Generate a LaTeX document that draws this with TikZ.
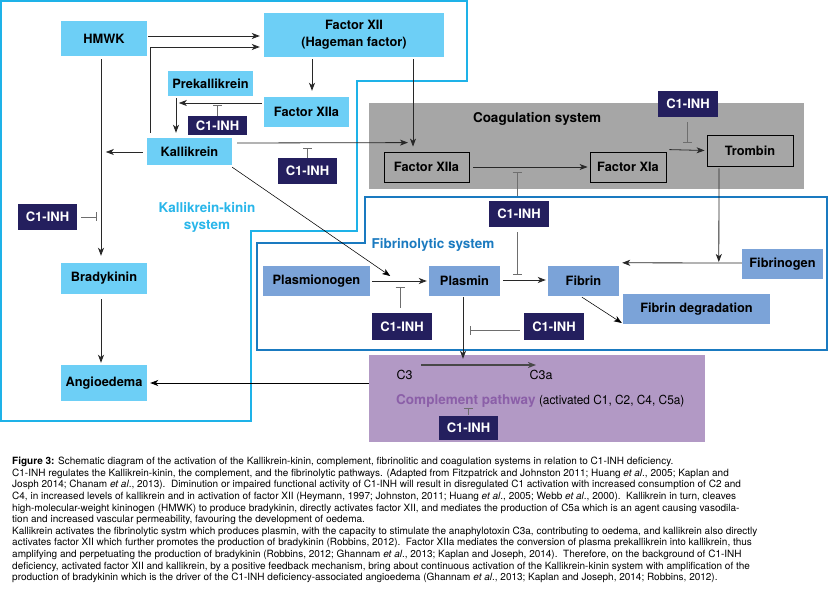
\documentclass[tikz,border=0pt]{standalone}
\usepackage{fontspec}
\setmainfont{TeX Gyre Heros}
\usetikzlibrary{arrows.meta,calc}
\definecolor{kkfill}{RGB}{109,207,246}
\definecolor{kkline}{RGB}{30,178,232}
\definecolor{kktext}{RGB}{41,182,234}
\definecolor{inhfill}{RGB}{36,31,94}
\definecolor{fibfill}{RGB}{123,163,216}
\definecolor{fibline}{RGB}{26,122,192}
\definecolor{coagfill}{RGB}{166,166,166}
\definecolor{compfill}{RGB}{178,153,197}
\definecolor{comptext}{RGB}{139,95,168}
\definecolor{arrcol}{RGB}{40,40,40}
\definecolor{inhcol}{RGB}{110,110,110}
\newcommand\nodefont{\fontsize{12.8}{15}\selectfont\bfseries}
\newcommand\labfont{\fontsize{13.5}{17}\selectfont\bfseries}
\begin{document}
\begin{tikzpicture}[x=1pt,y=-1pt,
  sz/.style 2 args={minimum width=#1pt, minimum height=#2pt},
  base/.style={inner sep=0pt, align=center, font=\nodefont},
  kk/.style={base, fill=kkfill, text=black},
  fib/.style={base, fill=fibfill, text=black},
  coagbox/.style={base, fill=coagfill, draw=black, line width=0.8pt, text=black},
  inh/.style={base, fill=inhfill, text=white, font=\fontsize{13}{15}\selectfont\bfseries},
  arr/.style={draw=arrcol, line width=0.8pt, -{Stealth[length=8pt,width=6pt,inset=2.2pt]}},
  thinarr/.style={draw=black, line width=0.55pt, -{Stealth[length=8pt,width=6pt,inset=2.2pt]}},
  tee/.style={draw=inhcol, line width=0.8pt, -{Bar[width=9pt]}},
  lab/.style={inner sep=0pt, align=center, font=\labfont},
  comptextstyle/.style={inner sep=0pt, font=\fontsize{12.5}{15}\selectfont}
]
\useasboundingbox (0,0) rectangle (829,609);
\fill[white] (0,0) rectangle (829,609);

% background regions
\node[base, fill=coagfill, sz={435}{86}] (coag) at (586.5,146) {};
\node[base, fill=compfill, sz={336}{87}] (comp) at (537,398.5) {};
\draw[kkline, line width=1.5pt] (1,1) -- (467,1) -- (467,81) -- (357,81) -- (357,231) -- (251,231) -- (251,421) -- (1,421) -- cycle;
\draw[fibline, line width=1.5pt] (365,197) -- (827,197) -- (827,350) -- (257,350) -- (257,243) -- (365,243) -- cycle;

% labels
\node[lab, text=kktext] (kklab) at (207,217.5) {Kallikrein-kinin\\system};
\node[lab, text=black] (coaglab) at (537,119) {Coagulation system};
\node[lab, text=fibline] (fiblab) at (433,245) {Fibrinolytic system};

% kallikrein-kinin nodes
\node[kk, sz={86}{35}] (HMWK) at (104,38.5) {HMWK};
\node[kk, sz={180}{44}, font=\fontsize{12.8}{17}\selectfont\bfseries] (FXII) at (354,35) {Factor XII\\(Hageman factor)};
\node[kk, sz={85}{25}] (PreK) at (210.5,83.5) {Prekallikrein};
\node[kk, sz={85}{30}] (FXIIa) at (306.5,112) {Factor XIIa};
\node[inh, sz={59}{19}] (inhA) at (217.5,125.5) {C1-INH};
\node[kk, sz={85}{27}] (Kal) at (189.5,151.5) {Kallikrein};
\node[inh, sz={59}{26}] (inhB) at (307.5,171) {C1-INH};
\node[inh, sz={59}{26}] (inhC) at (47.5,217) {C1-INH};
\node[kk, sz={86}{31}] (Brady) at (104,278.5) {Bradykinin};
\node[kk, sz={86}{36}] (Angio) at (104,383) {Angioedema};

% coagulation nodes
\node[coagbox, sz={85}{30}] (cFXIIa) at (426.5,167) {Factor XIIa};
\node[coagbox, sz={76}{30}] (cFXIa) at (628,167) {Factor XIa};
\node[coagbox, sz={86}{31}] (Trom) at (750,150.5) {Trombin};
\node[inh, sz={60}{26}] (inhD) at (688,104) {C1-INH};
\node[inh, sz={60}{26}] (inhE) at (519,214) {C1-INH};

% fibrinolytic nodes
\node[fib, sz={107}{30}] (Plgn) at (316.5,281) {Plasmionogen};
\node[fib, sz={71}{30}] (Plas) at (464.5,281) {Plasmin};
\node[fib, sz={71}{30}] (Fibr) at (583.5,281) {Fibrin};
\node[fib, sz={147}{30}] (FDeg) at (696.5,309) {Fibrin degradation};
\node[fib, sz={81}{30}] (Fgen) at (782.5,264) {Fibrinogen};
\node[inh, sz={60}{27}] (inhF) at (402,326.5) {C1-INH};
\node[inh, sz={60}{27}] (inhG) at (554,326.5) {C1-INH};

% complement
\node[comptextstyle] (C3) at (404.5,375) {C3};
\node[comptextstyle] (C3a) at (541,375) {C3a};
\node[comptextstyle, anchor=west] (comptxt) at (396,401) {\textcolor{comptext}{\fontsize{13.5}{15}\selectfont\bfseries Complement pathway} \scalebox{0.95}[1]{(activated C1, C2, C4, C5a)}};
\node[inh, sz={59}{24}] (inhH) at (468.5,428) {C1-INH};

% connectors: kallikrein-kinin
\draw[arr] ($(HMWK.east)+(1,-2.5)$) -- ($(FXII.west)+(-4,1)$);
\draw[arr] ($(Kal.north west)+(4,-5)$) |- ($(FXII.west)+(-4,12)$);
\draw[arr] ($(HMWK.south)+(-3,3)$) -- ($(Brady.north)+(-3,-7)$);
\draw[arr] ($(Kal.west)+(-4,0.5)$) -- ++(-37,0);
\draw[arr] ($(FXII.south)+(-42,2)$) -- ($(FXIIa.north)+(5.5,-6)$);
\draw[arr] ($(FXIIa.west)+(-2,-9)$) -- ++(-83,0);
\draw[arr] ($(PreK.south)+(-34.5,2)$) -- ($(Kal.north)+(-13.5,-5)$);
\draw[tee] (inhA.north) -- ++(0,-11);
\draw[arr] ($(Kal.east)+(5,-8.5)$) -- ($(cFXIIa.north)+(-18.5,-9)$);
\draw[arr] ($(FXII.south)+(59,2)$) -- ($(cFXIIa.north)+(-13.5,-5)$);
\draw[tee] (inhB.north) -- ++(0,-10);
\draw[thinarr] ($(Kal.south east)+(0,2)$) -- ($(Plgn.east)+(20,-5)$);
\draw[tee] ($(inhC.east)+(4,0)$) -- ++(16,0);
\draw[arr] ($(Brady.south)+(-3,5)$) -- ($(Angio.north)+(-3,-2)$);
\draw[arr, draw=black] ($(comp.west)+(0,-15.5)$) -- ($(Angio.east)+(3,0)$);

% connectors: coagulation
\draw[arr] ($(cFXIIa.east)+(4,0)$) -- ($(cFXIa.west)+(-2,0)$);
\draw[tee] ($(inhE.north)+(-2,-5)$) -- ($(inhE.north)+(-2,-29)$);
\draw[arr] ($(cFXIa.north east)+(3,-2)$) -- ($(Trom.west)+(-2,0)$);
\draw[tee] ($(inhD.south)+(-1,5)$) -- ($(inhD.south)+(-1,26)$);
\draw[arr] ($(Trom.south)+(-31,2)$) -- ($(Fgen.west)+(-23,-2)$);

% connectors: fibrinolytic
\draw[tee] ($(inhE.south)+(-2,5)$) -- ($(inhE.south)+(-2,48)$);
\draw[arr] ($(Plgn.east)+(2,0)$) -- ($(Plas.west)+(-2,0)$);
\draw[tee] ($(inhF.north)+(-2,-5)$) -- ($(inhF.north)+(-2,-26)$);
\draw[arr] ($(Plas.east)+(3,-1)$) -- ($(Fibr.west)+(-2,-1)$);
\draw[arr] ($(Fgen.west)+(0,-1)$) -- ($(Fibr.north east)+(3,-3)$);
\draw[thinarr] ($(Fibr.south)+(-1.5,1)$) -- ($(FDeg.west)+(-1,14)$);
\draw[arr] ($(Plas.south)+(-1.5,1)$) -- ($(comp.north)+(-74,4)$);
\draw[tee] ($(inhG.west)+(-4,3.5)$) -- ($(inhG.west)+(-54,3.5)$);

% complement
\draw[draw=arrcol!85, line width=1.5pt, -{Stealth[length=8pt,width=6pt,inset=2.2pt]}] ($(C3.center)+(16.5,-10)$) -- ($(C3a.center)+(-5,-10)$);
\draw[tee] ($(inhH.north)+(0,-1)$) -- ($(inhH.north)+(0,-8)$);

% caption
\node[anchor=north west, inner sep=0pt, align=left, font=\fontsize{10}{11.6}\selectfont] (caption) at (12,457) {%
\textbf{Figure 3:} Schematic diagram of the activation of the Kallikrein-kinin, complement, fibrinolitic and coagulation systems in relation to C1-INH deficiency.\\
C1-INH regulates the Kallikrein-kinin, the complement, and the fibrinolytic pathways. (Adapted from Fitzpatrick and Johnston 2011; Huang \textit{et al}., 2005; Kaplan and\\
Josph 2014; Chanam \textit{et al}., 2013).\ \ Diminution or impaired functional activity of C1-INH will result in disregulated C1 activation with increased consumption of C2 and\\
C4, in increased levels of kallikrein and in activation of factor XII (Heymann, 1997; Johnston, 2011; Huang \textit{et al}., 2005; Webb \textit{et al}., 2000).\ \ Kallikrein in turn, cleaves\\
high-molecular-weight kininogen (HMWK) to produce bradykinin, directly activates factor XII, and mediates the production of C5a which is an agent causing vasodila-\\
tion and increased vascular permeability, favouring the development of oedema.\\
Kallikrein activates the fibrinolytic systm which produces plasmin, with the capacity to stimulate the anaphylotoxin C3a, contributing to oedema, and kallikrein also directly\\
activates factor XII which further promotes the production of bradykinin (Robbins, 2012).\ \ Factor XIIa mediates the conversion of plasma prekallikrein into kallikrein, thus\\
amplifying and perpetuating the production of bradykinin (Robbins, 2012; Ghannam \textit{et al}., 2013; Kaplan and Joseph, 2014).\ \ Therefore, on the background of C1-INH\\
deficiency, activated factor XII and kallikrein, by a positive feedback mechanism, bring about continuous activation of the Kallikrein-kinin system with amplification of the\\
production of bradykinin which is the driver of the C1-INH deficiency-associated angioedema (Ghannam \textit{et al}., 2013; Kaplan and Joseph, 2014; Robbins, 2012).};
\end{tikzpicture}
\end{document}
